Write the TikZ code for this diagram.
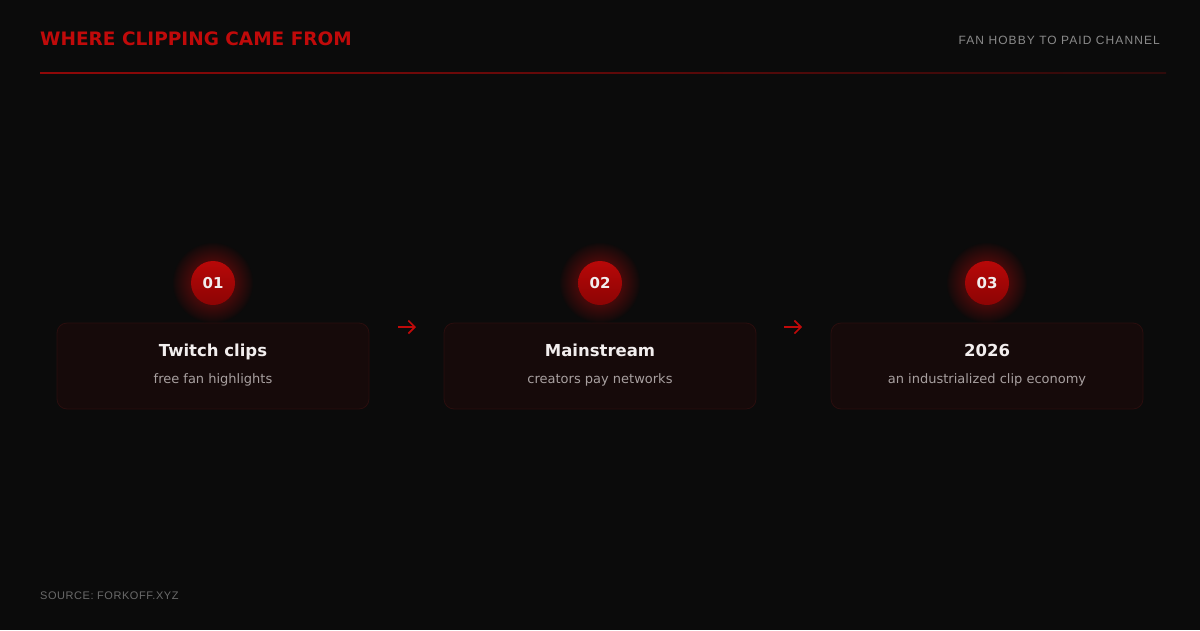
\documentclass[tikz,border=0pt]{standalone}
\usepackage{fontspec}
\setmainfont{DejaVu Sans}
\newfontfamily\headfont{DejaVu Sans}
\newfontfamily\smallcapsfont[LetterSpace=9]{Liberation Sans}
\newfontfamily\footfont[LetterSpace=5]{Liberation Sans}
\usetikzlibrary{arrows.meta}
\definecolor{bg}{HTML}{0B0B0B}
\definecolor{brand}{HTML}{C00A0A}
\definecolor{cardfill}{HTML}{160A0A}
\definecolor{cardline}{HTML}{2A0E0E}
\definecolor{subgray}{HTML}{8A8A8A}
\definecolor{bodygray}{HTML}{A8A0A0}
\definecolor{footgray}{HTML}{6A6A6A}
\definecolor{titlewhite}{HTML}{F2EEEE}
\definecolor{ringred}{HTML}{B80808}
\definecolor{ringdark}{HTML}{8C0404}
\tikzset{
  card/.style={draw=cardline, line width=0.8pt, fill=cardfill, rounded corners=10pt,
    minimum width=312pt, minimum height=86pt, inner sep=0pt},
  badge/.style={circle, minimum size=44pt, inner sep=0pt, shading=axis,
    top color=ringred, bottom color=ringdark, text=titlewhite,
    font=\headfont\bfseries\fontsize{15}{15}\selectfont},
  cardtitle/.style={anchor=base, text=titlewhite, font=\headfont\bfseries\fontsize{16.5}{18}\selectfont},
  cardsub/.style={anchor=base, text=bodygray, font=\fontsize{13}{15}\selectfont},
  flow/.style={draw=brand, line width=1.6pt, -{Straight Barb[length=6.5pt,width=13pt,line width=1.6pt]}},
}
\newcommand{\glowat}[1]{%
  \foreach \r in {40,39,...,23}{\fill[brand, opacity=0.022] (#1) circle (\r pt);}%
}
\begin{document}
\begin{tikzpicture}[x=1pt,y=-1pt]
\fill[bg] (0,0) rectangle (1200,630);
\useasboundingbox (0,0) rectangle (1200,630);
% header
\node[anchor=base west, inner sep=0pt, text=brand, font=\headfont\bfseries\fontsize{18.5}{20}\selectfont] (title) at (40,45) {WHERE CLIPPING CAME FROM};
\node[anchor=base east, inner sep=0pt, text=subgray, font=\smallcapsfont\fontsize{12}{14}\selectfont] (subtitle) at (1160,44) {FAN HOBBY TO PAID CHANNEL};
\shade[left color=brand!75!black, right color=bg!80!brand, shading angle=90] (40,72.5) rectangle (1166,73.5);
% glows
\glowat{213,283}
\glowat{600,283}
\glowat{987,283}
% cards
\node[card] (k1) at (213,366) {};
\node[card] (k2) at (600,366) {};
\node[card] (k3) at (987,366) {};
% badges
\node[badge] (c1) at (213,283) {01};
\node[badge] (c2) at (600,283) {02};
\node[badge] (c3) at (987,283) {03};
% card texts
\node[cardtitle] (t1) at (213,356) {Twitch clips};
\node[cardsub] (s1) at (213,383) {free fan highlights};
\node[cardtitle] (t2) at (600,356) {Mainstream};
\node[cardsub] (s2) at (600,383) {creators pay networks};
\node[cardtitle] (t3) at (987,356) {2026};
\node[cardsub] (s3) at (987,383) {an industrialized clip economy};
% arrows
\coordinate (a1s) at (398,327); \coordinate (a1e) at (416,327);
\coordinate (a2s) at (784,327); \coordinate (a2e) at (802,327);
\draw[flow] (a1s) -- (a1e);
\draw[flow] (a2s) -- (a2e);
% footer
\node[anchor=base west, inner sep=0pt, text=footgray, font=\footfont\fontsize{11}{13}\selectfont] (foot) at (40,599) {SOURCE: FORKOFF.XYZ};
\end{tikzpicture}
\end{document}
